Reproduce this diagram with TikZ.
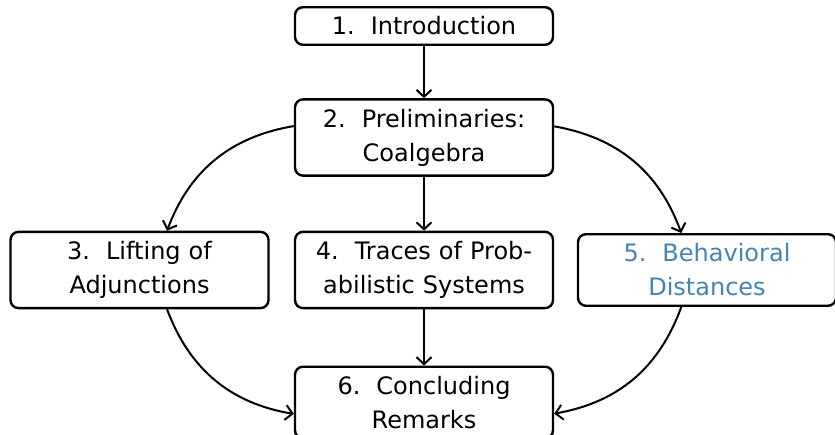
\documentclass[tikz,border=0pt]{standalone}
\usepackage{fontspec}
\setmainfont{DejaVu Sans}
\usetikzlibrary{arrows.meta}
\definecolor{secblue}{RGB}{70,130,180}
\begin{document}
\begin{tikzpicture}[x=1pt,y=-1pt,
  sec/.style={draw, line width=2.4pt, rounded corners=8pt, text width=242pt, align=center, inner xsep=8pt, inner ysep=9.5pt, font=\fontsize{24}{34}\selectfont},
  arr/.style={line width=2pt, -{Straight Barb[length=7pt,width=15pt,line width=2pt]}}]
\useasboundingbox (0,0) rectangle (835,435);
\node[sec] (n1) at (424,26) {1.\ \ Introduction};
\node[sec] (n2) at (424,137.5) {2.\ \ Preliminaries:\\Coalgebra};
\node[sec] (n3) at (139.5,270) {3.\ \ Lifting of\\Adjunctions};
\node[sec] (n4) at (424,270) {4.\ \ Traces of Prob-\\abilistic Systems};
\node[sec, text=secblue] (n5) at (707,270) {5.\ \ Behavioral\\Distances};
\node[sec] (n6) at (424,402.5) {6.\ \ Concluding\\Remarks};
\draw[arr] (n1) -- (n2);
\draw[arr] (n2) -- (n4);
\draw[arr] (n4) -- (n6);
\draw[arr] (n2) to[bend right] (n3);
\draw[arr] (n2) to[bend left] (n5);
\draw[arr] (n3) to[bend right] (n6);
\draw[arr] (n5) to[bend left] (n6);
\end{tikzpicture}
\end{document}
